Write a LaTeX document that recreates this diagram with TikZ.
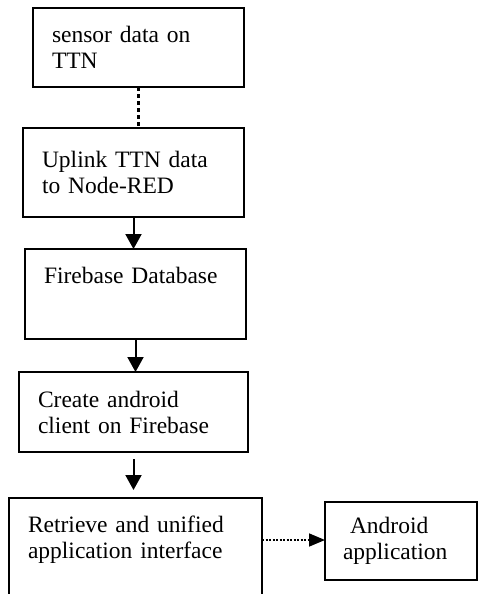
\documentclass[tikz,border=0pt]{standalone}
\usepackage{fontspec}
\setmainfont{Liberation Serif}
\usetikzlibrary{arrows.meta}
\begin{document}
\begin{tikzpicture}[x=1pt,y=-1pt,>={Triangle[width=16pt,length=15pt]},
    box/.style={draw,line width=1.8pt,anchor=north west,align=left,inner xsep=19pt,inner ysep=0pt,outer sep=0pt,font=\fontsize{23.5}{26}\selectfont},
    flow/.style={->,line width=2pt}]
    \useasboundingbox (0,0) rectangle (477,594);
    \node[box,text width=173pt,minimum height=79pt](b1) at (33,8){sensor data on\\TTN};
    \node[box,text width=183pt,minimum height=89pt](b2) at (23,128){Uplink TTN data\\to Node-RED};
    \node[box,text width=183pt,minimum height=90pt](b3) at (25,249){Firebase Database\\[12pt]\mbox{}};
    \node[box,text width=191pt,minimum height=80pt](b4) at (19,372){Create android\\client on Firebase};
    \node[box,draw=none,text width=215pt,minimum height=84pt](b5) at (9,498){Retrieve and unified\\application interface};
    \node[box,inner xsep=18pt,text width=116pt,minimum height=78pt](b6) at (325,502){\hspace*{7pt}Android\\application};
    \draw[line width=1.8pt]([yshift=-12pt]b5.south west)--(b5.north west)--(b5.north east)--([yshift=-12pt]b5.south east);
    \draw[line width=3pt,dash pattern=on 4pt off 3pt](b1.south)--(b1.south |- b2.north);
    \draw[flow](b2.south)--(b2.south |- b3.north);
    \draw[flow](b3.south)--(b3.south |- b4.north);
    \draw[flow,shorten <=7pt,shorten >=8pt](b4.south)--(b4.south |- b5.north);
    \draw[->,>={Triangle[width=13pt,length=16pt]},line width=1.6pt,dash pattern=on 2pt off 1.5pt](b5.east)--(b5.east -| b6.west);
\end{tikzpicture}
\end{document}
